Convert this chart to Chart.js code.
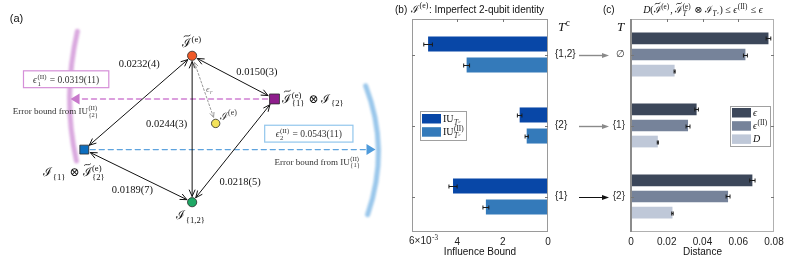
<!DOCTYPE html>
<html>
<head>
<meta charset="utf-8">
<script src="https://cdn.jsdelivr.net/npm/chart.js@4.4.0/dist/chart.umd.min.js"></script>
<style>
  html, body { margin: 0; padding: 0; background: #fff; }
  #wrap { position: relative; width: 793px; height: 258px; overflow: hidden; }
  canvas { position: absolute; left: 0; top: 0; }
</style>
</head>
<body>
<div id="wrap">
  <canvas id="diagram" width="793" height="258"></canvas>
  <canvas id="influence" width="793" height="258"></canvas>
  <canvas id="distance" width="793" height="258"></canvas>
</div>
<script>
// ---------- data ----------
// panel (a): nodes of the diagram (units: 0-100 on both axes)
const nodeX = [47.0, 68.0, 53.0, 19.5, 47.0];
const nodeY = [80.2, 62.4, 52.3, 41.5, 19.8];
const nodeColors = ['#f05a28', '#8e1d8c', '#f3e25a', '#0d6ebf', '#1fa865'];
const nodeShapes = ['circle', 'rect', 'circle', 'rect', 'circle'];
const nodeSizes = [4.6, 7, 4.2, 6.3, 4.6];

const edgeFrom = [3, 0, 0, 3, 1];
const edgeTo = [0, 1, 4, 4, 4];
const edgeLabels = ['0.0232(4)', '0.0150(3)', '0.0244(3)', '0.0189(7)', '0.0218(5)'];
const edgeLabelX = [33.5, 63.5, 40.5, 31.75, 59.25];
const edgeLabelY = [76.7, 73.6, 51.9, 24.8, 27.9];

// panel (b): influence bounds
const subsetsB = ['{1,2}', '{2}', '{1}'];
const iuVals = [5.29e-3, 1.25e-3, 4.19e-3];
const iuErr = [0.19e-3, 0.10e-3, 0.18e-3];
const iu2Vals = [3.59e-3, 0.94e-3, 2.74e-3];
const iu2Err = [0.13e-3, 0.07e-3, 0.13e-3];
const influenceTicks = [0, 2e-3, 4e-3, 6e-3];

// panel (c): distances
const subsetsC = ['∅', '{1}', '{2}'];
const epsVals = [0.0769, 0.0367, 0.0679];
const epsErr = [0.0013, 0.0010, 0.0015];
const eps2Vals = [0.0640, 0.0319, 0.0543];
const eps2Err = [0.0011, 0.0011, 0.0011];
const dVals = [0.0244, 0.0150, 0.0232];
const dErr = [0.0003, 0.0003, 0.0004];
const distanceTicks = [0, 0.02, 0.04, 0.06, 0.08];

// ---------- helpers ----------
const SERIF = '"Liberation Serif","DejaVu Serif",serif';
const SANS = '"Liberation Sans",Arial,sans-serif';
function fnt(size, it, fam) { return (it ? 'italic ' : '') + size + 'px ' + (fam || SERIF); }

// tiny math-ish text: segments {t, it, tilde} or {sup, sub, subIt}
function drawMath(ctx, segs, x, y, size, align, color) {
  const parts = [];
  let w = 0;
  for (const s of segs) {
    if (s.t !== undefined) {
      ctx.font = fnt(size, s.it, s.fam);
      const ww = ctx.measureText(s.t).width;
      parts.push({ s, x: w, w: ww });
      w += ww;
    } else {
      const fs = size * 0.72;
      ctx.font = fnt(fs, false);
      const a = s.sup ? ctx.measureText(s.sup).width : 0;
      ctx.font = fnt(fs, !!s.subIt);
      const b = s.sub ? ctx.measureText(s.sub).width : 0;
      parts.push({ s, x: w + 0.5, fs });
      w += Math.max(a, b) + 1.5;
    }
  }
  let x0 = x;
  if (align === 'center') x0 = x - w / 2;
  else if (align === 'right') x0 = x - w;
  ctx.save();
  ctx.fillStyle = color || '#111';
  ctx.strokeStyle = color || '#111';
  ctx.textAlign = 'left';
  ctx.textBaseline = 'alphabetic';
  for (const p of parts) {
    const s = p.s;
    if (s.t !== undefined) {
      ctx.font = fnt(size, s.it, s.fam);
      ctx.fillText(s.t, x0 + p.x, y);
      if (s.tilde) {
        const cx = x0 + p.x + p.w * 0.55, ty = y - size * 0.95, hw = size * 0.28;
        ctx.lineWidth = 0.8;
        ctx.beginPath();
        ctx.moveTo(cx - hw, ty + 1);
        ctx.bezierCurveTo(cx - hw / 2, ty - 1.6, cx + hw / 2, ty + 1.6, cx + hw, ty - 1);
        ctx.stroke();
      }
    } else {
      if (s.sup) { ctx.font = fnt(p.fs, false); ctx.fillText(s.sup, x0 + p.x, y - size * 0.42); }
      if (s.sub) { ctx.font = fnt(p.fs, !!s.subIt); ctx.fillText(s.sub, x0 + p.x, y + size * 0.3); }
    }
  }
  ctx.restore();
  return w;
}

function openHead(ctx, x, y, ang, len, half) {
  ctx.beginPath();
  ctx.moveTo(x - len * Math.cos(ang - half), y - len * Math.sin(ang - half));
  ctx.lineTo(x, y);
  ctx.lineTo(x - len * Math.cos(ang + half), y - len * Math.sin(ang + half));
  ctx.stroke();
}
function filledHead(ctx, x, y, ang, len, half) {
  ctx.beginPath();
  ctx.moveTo(x, y);
  ctx.lineTo(x - len * Math.cos(ang) - half * Math.sin(ang), y - len * Math.sin(ang) + half * Math.cos(ang));
  ctx.lineTo(x - len * Math.cos(ang) + half * Math.sin(ang), y - len * Math.sin(ang) - half * Math.cos(ang));
  ctx.closePath();
  ctx.fill();
}
function doubleArrow(ctx, a, b, ga, gb, len) {
  const dx = b[0] - a[0], dy = b[1] - a[1], L = Math.hypot(dx, dy);
  const ux = dx / L, uy = dy / L;
  const s = [a[0] + ux * ga, a[1] + uy * ga], e = [b[0] - ux * gb, b[1] - uy * gb];
  ctx.beginPath(); ctx.moveTo(s[0], s[1]); ctx.lineTo(e[0], e[1]); ctx.stroke();
  const ang = Math.atan2(dy, dx);
  ctx.setLineDash([]);
  openHead(ctx, e[0], e[1], ang, len, 0.42);
  openHead(ctx, s[0], s[1], ang + Math.PI, len, 0.42);
}
function nodeGap(i) { return nodeShapes[i] === 'rect' ? nodeSizes[i] * 0.9 + 1 : nodeSizes[i] + 1.2; }

// ---------- panel (a) ----------
const diagramDecor = {
  id: 'diagramDecor',
  beforeDatasetsDraw(chart) {
    const { ctx, scales: { x, y } } = chart;
    const P = i => [x.getPixelForValue(nodeX[i]), y.getPixelForValue(nodeY[i])];
    const Q = (u, v) => [x.getPixelForValue(u), y.getPixelForValue(v)];
    ctx.save();
    // soft arcs
    ctx.filter = 'blur(1.3px)';
    ctx.lineCap = 'round';
    ctx.lineWidth = 5;
    let a = Q(17.75, 90.3), c = Q(13.9, 63.2), b = Q(17.5, 36.8);
    ctx.strokeStyle = 'rgba(206,140,212,0.75)';
    ctx.beginPath(); ctx.moveTo(a[0], a[1]); ctx.quadraticCurveTo(c[0], c[1], b[0], b[1]); ctx.stroke();
    a = Q(91.25, 67.8); c = Q(97.5, 41.7); b = Q(91.75, 14.7);
    ctx.strokeStyle = 'rgba(120,180,228,0.75)';
    ctx.beginPath(); ctx.moveTo(a[0], a[1]); ctx.quadraticCurveTo(c[0], c[1], b[0], b[1]); ctx.stroke();
    ctx.filter = 'none';

    // dashed error-bound lines
    ctx.lineWidth = 1.4;
    ctx.setLineDash([5, 4]);
    const pp = P(1), tipP = x.getPixelForValue(16.0);
    ctx.strokeStyle = '#cf7fd2';
    ctx.beginPath(); ctx.moveTo(pp[0] - 7, pp[1]); ctx.lineTo(tipP + 9, pp[1]); ctx.stroke();
    const pb = P(3), tipB = x.getPixelForValue(93.75);
    ctx.strokeStyle = '#5ea3de';
    ctx.beginPath(); ctx.moveTo(pb[0] + 6, pb[1]); ctx.lineTo(tipB - 9, pb[1]); ctx.stroke();
    ctx.setLineDash([]);
    ctx.fillStyle = '#c878cc';
    filledHead(ctx, tipP, pp[1], Math.PI, 9, 5.5);
    ctx.fillStyle = '#4f9bdb';
    filledHead(ctx, tipB, pb[1], 0, 9, 5.5);

    // distance edges
    ctx.strokeStyle = '#111';
    ctx.lineWidth = 1;
    for (let k = 0; k < edgeFrom.length; k++) {
      const i = edgeFrom[k], j = edgeTo[k];
      doubleArrow(ctx, P(i), P(j), nodeGap(i), nodeGap(j), 7);
    }
    // epsilon_r dotted link
    ctx.strokeStyle = '#9a9a9a';
    ctx.setLineDash([2, 2]);
    doubleArrow(ctx, P(0), P(2), nodeGap(0) + 1, nodeGap(2) + 1, 5);
    ctx.restore();
  },
  afterDatasetsDraw(chart) {
    const { ctx, scales: { x, y } } = chart;
    const X = v => x.getPixelForValue(v), Y = v => y.getPixelForValue(v);
    ctx.save();
    ctx.font = '11px ' + SANS;
    ctx.fillStyle = '#111';
    ctx.textBaseline = 'alphabetic';
    ctx.fillText('(a)', X(0.5), Y(94.2));
    ctx.restore();

    ctx.save();
    ctx.font = '10.5px ' + SERIF;
    ctx.fillStyle = '#111';
    ctx.textAlign = 'center';
    ctx.textBaseline = 'middle';
    edgeLabels.forEach((t, k) => ctx.fillText(t, X(edgeLabelX[k]), Y(edgeLabelY[k])));
    ctx.restore();
    drawMath(ctx, [{ t: 'ϵ', it: true }, { sub: 'r', subIt: true }], X(51.5), Y(66.7) + 3, 9, 'center', '#777');

    // node labels
    drawMath(ctx, [{ t: 'ℐ', tilde: true }, { sup: '(e)' }], X(47.0), Y(83.7), 12, 'center');
    drawMath(ctx, [{ t: 'ℐ', tilde: true }, { sup: '(e)', sub: '{1}' }, { t: ' ⊗ ' }, { t: 'ℐ' }, { sub: '{2}' }], X(70.0), Y(60.9), 12, 'left');
    drawMath(ctx, [{ t: 'ℐ' }, { sup: '(e)' }], X(54.0), Y(53.9), 11, 'left', '#333');
    drawMath(ctx, [{ t: 'ℐ' }, { sub: '{1}' }, { t: ' ⊗ ' }, { t: 'ℐ', tilde: true }, { sup: '(e)', sub: '{2}' }], X(17.0), Y(30.6), 12, 'center');
    drawMath(ctx, [{ t: 'ℐ' }, { sub: '{1,2}' }], X(46.75), Y(12.8), 12, 'center');

    // boxes with error bounds
    ctx.save();
    ctx.fillStyle = '#fff';
    ctx.lineWidth = 1.2;
    ctx.strokeStyle = '#d58fd8';
    ctx.fillRect(X(4.0), Y(74.0), X(25.75) - X(4.0), Y(67.05) - Y(74.0));
    ctx.strokeRect(X(4.0), Y(74.0), X(25.75) - X(4.0), Y(67.05) - Y(74.0));
    ctx.strokeStyle = '#92c6ec';
    ctx.fillRect(X(65.5), Y(51.55), X(88.0) - X(65.5), Y(44.6) - Y(51.55));
    ctx.strokeRect(X(65.5), Y(51.55), X(88.0) - X(65.5), Y(44.6) - Y(51.55));
    ctx.restore();
    drawMath(ctx, [{ t: 'ϵ', it: true }, { sup: '(II)', sub: '1' }, { t: ' = 0.0319(11)' }], (X(4.0) + X(25.75)) / 2, Y(70.5) + 3.5, 9.5, 'center', '#333');
    drawMath(ctx, [{ t: 'ϵ', it: true }, { sup: '(II)', sub: '2' }, { t: ' = 0.0543(11)' }], (X(65.5) + X(88.0)) / 2, Y(48.1) + 3.5, 9.5, 'center', '#333');
    drawMath(ctx, [{ t: 'Error bound from IU' }, { sup: '(II)', sub: '{2}' }], X(1.25), Y(56.2), 9, 'left', '#333');
    drawMath(ctx, [{ t: 'Error bound from IU' }, { sup: '(II)', sub: '{1}' }], X(90.0), Y(35.3), 9, 'right', '#333');
  }
};

new Chart(document.getElementById('diagram'), {
  type: 'scatter',
  data: {
    datasets: [{
      data: nodeX.map((v, i) => ({ x: v, y: nodeY[i] })),
      pointBackgroundColor: nodeColors,
      pointStyle: nodeShapes,
      pointRadius: nodeSizes,
      pointBorderColor: '#2a2a2a',
      pointBorderWidth: 0.8
    }]
  },
  options: {
    responsive: false,
    animation: false,
    layout: { padding: { left: 0, right: 393, top: 0, bottom: 0 } },
    plugins: { legend: { display: false }, tooltip: { enabled: false } },
    scales: {
      x: { display: false, min: 0, max: 100 },
      y: { display: false, min: 0, max: 100 }
    }
  },
  plugins: [diagramDecor]
});

// ---------- shared bar-panel plugins ----------
const errorBars = {
  id: 'errorBars',
  afterDatasetsDraw(chart) {
    const { ctx, scales: { x } } = chart;
    ctx.save();
    ctx.strokeStyle = '#1a1a1a';
    ctx.lineWidth = 1;
    chart.data.datasets.forEach((ds, i) => {
      chart.getDatasetMeta(i).data.forEach((bar, j) => {
        const v = ds.data[j], e = ds.errors[j];
        const x1 = x.getPixelForValue(v - e), x2 = x.getPixelForValue(v + e);
        const yy = Math.round(bar.y) + 0.5;
        ctx.beginPath();
        ctx.moveTo(x1, yy); ctx.lineTo(x2, yy);
        ctx.moveTo(x1, yy - 2); ctx.lineTo(x1, yy + 2);
        ctx.moveTo(x2, yy - 2); ctx.lineTo(x2, yy + 2);
        ctx.stroke();
      });
    });
    ctx.restore();
  }
};

const frame = {
  id: 'frame',
  afterDraw(chart, args, opts) {
    const { ctx, chartArea: ca, scales: { x, y } } = chart;
    ctx.save();
    ctx.strokeStyle = opts.color;
    ctx.lineWidth = 1;
    ctx.strokeRect(ca.left + 0.5, ca.top + 0.5, ca.right - ca.left - 1, ca.bottom - ca.top - 1);
    if (opts.leftColor) {
      ctx.strokeStyle = opts.leftColor;
      ctx.lineWidth = 2;
      ctx.beginPath(); ctx.moveTo(ca.left, ca.top); ctx.lineTo(ca.left, ca.bottom); ctx.stroke();
    }
    ctx.strokeStyle = '#777';
    ctx.lineWidth = 1;
    ctx.beginPath();
    x.ticks.forEach(t => {
      const px = Math.round(x.getPixelForValue(t.value)) + 0.5;
      if (px > ca.left + 2 && px < ca.right - 2) { ctx.moveTo(px, ca.top); ctx.lineTo(px, ca.top + 3); }
    });
    y.ticks.forEach((t, i) => {
      const py = Math.round(y.getPixelForValue(i)) + 0.5;
      ctx.moveTo(ca.left, py); ctx.lineTo(ca.left + 3, py);
      ctx.moveTo(ca.right, py); ctx.lineTo(ca.right - 3, py);
    });
    ctx.stroke();
    ctx.restore();
  }
};

const insideLegend = {
  id: 'insideLegend',
  afterDraw(chart, args, opts) {
    const { ctx } = chart;
    const [bx, by, bw, bh] = opts.box;
    ctx.save();
    ctx.fillStyle = '#fff';
    ctx.fillRect(bx, by, bw, bh);
    ctx.strokeStyle = '#a0a0a0';
    ctx.lineWidth = 1;
    ctx.strokeRect(bx + 0.5, by + 0.5, bw, bh);
    ctx.restore();
    chart.data.datasets.forEach((ds, i) => {
      const ry = by + opts.first + i * opts.step;
      ctx.fillStyle = ds.backgroundColor;
      ctx.fillRect(bx + 2, ry, opts.sw, opts.sh);
      drawMath(ctx, opts.labels[i], bx + opts.sw + 4, ry + opts.sh - 1.5, 10, 'left', '#111');
    });
  }
};

Chart.defaults.font.family = SANS;
Chart.defaults.font.size = 10;
Chart.defaults.color = '#222';

// ---------- panel (b) ----------
const influenceText = {
  id: 'influenceText',
  afterDraw(chart) {
    const { ctx, chartArea: ca, scales: { x, y } } = chart;
    ctx.save();
    ctx.fillStyle = '#111';
    ctx.font = '10px ' + SANS;
    ctx.textBaseline = 'alphabetic';
    ctx.fillText('(b)', 395, 13);
    ctx.restore();
    drawMath(ctx, [{ t: 'ℐ' }, { sup: '(e)' }], 411, 13, 11, 'left');
    ctx.save();
    ctx.font = '10px ' + SANS;
    ctx.fillStyle = '#111';
    ctx.fillText(': Imperfect 2-qubit identity', 429, 13);
    ctx.textAlign = 'center';
    ctx.fillText('Influence Bound', (ca.left + ca.right) / 2, 255);
    ctx.restore();
    // 6x10^-3 tick label
    const x6 = x.getPixelForValue(6e-3);
    drawMath(ctx, [{ t: '6×10', fam: SANS }, { sup: '-3' }], x6 - 3, 244, 10, 'left', '#222');
    drawMath(ctx, [{ t: 'T', it: true }, { sup: 'c' }], 558, 31, 13, 'left', '#111');
    // arrows to panel (c)
    ctx.save();
    y.ticks.forEach((t, i) => {
      const py = Math.round(y.getPixelForValue(i)) + 0.5;
      const col = i < 2 ? '#8a8a8a' : '#111';
      ctx.strokeStyle = col; ctx.fillStyle = col;
      ctx.lineWidth = i < 2 ? 1.4 : 1;
      ctx.beginPath(); ctx.moveTo(579, py); ctx.lineTo(603, py); ctx.stroke();
      filledHead(ctx, 609, py, 0, 7, 2.6);
    });
    ctx.restore();
  }
};

new Chart(document.getElementById('influence'), {
  type: 'bar',
  data: {
    labels: subsetsB,
    datasets: [
      { label: 'IU_Tc', data: iuVals, errors: iuErr, backgroundColor: '#0847a7' },
      { label: 'IU(II)_Tc', data: iu2Vals, errors: iu2Err, backgroundColor: '#347aba' }
    ]
  },
  options: {
    indexAxis: 'y',
    responsive: false,
    animation: false,
    categoryPercentage: 0.593,
    barPercentage: 0.714,
    layout: { padding: { left: 412, right: 205, top: 19, bottom: 6 } },
    plugins: {
      legend: { display: false },
      tooltip: { enabled: false },
      frame: { color: '#9a9a9a' },
      insideLegend: {
        box: [420, 111, 46, 29], first: 3, step: 13.2, sw: 19, sh: 9.5,
        labels: [
          [{ t: 'IU' }, { sub: 'Tᶜ', subIt: true }],
          [{ t: 'IU' }, { sup: '(II)', sub: 'Tᶜ', subIt: true }]
        ]
      }
    },
    scales: {
      x: {
        type: 'linear', min: 0, max: 6e-3, reverse: true, position: 'bottom',
        grid: { display: false, drawTicks: false },
        border: { display: false },
        afterBuildTicks: s => { s.ticks = influenceTicks.map(v => ({ value: v })); },
        ticks: {
          autoSkip: false, maxRotation: 0, padding: 4,
          callback: v => (v > 5.9e-3 ? '' : String(Math.round(v * 1000)))
        },
        afterFit: s => { s.height = 20; }
      },
      y: {
        type: 'category', position: 'right',
        grid: { display: false, drawTicks: false },
        border: { display: false },
        ticks: { padding: 7, color: '#222' },
        afterFit: s => { s.width = 40; }
      }
    }
  },
  plugins: [errorBars, frame, insideLegend, influenceText]
});

// ---------- panel (c) ----------
const distanceText = {
  id: 'distanceText',
  afterDraw(chart) {
    const { ctx, chartArea: ca } = chart;
    ctx.save();
    ctx.fillStyle = '#111';
    ctx.font = '10px ' + SANS;
    ctx.fillText('(c)', 603, 13);
    ctx.textAlign = 'center';
    ctx.fillText('Distance', (ca.left + ca.right) / 2, 255);
    ctx.restore();
    drawMath(ctx, [
      { t: 'D', it: true }, { t: '(' }, { t: 'ℐ', tilde: true }, { sup: '(e)' }, { t: ', ' },
      { t: 'ℐ', tilde: true }, { sup: '(e)', sub: 'T', subIt: true }, { t: ' ⊗ ' }, { t: 'ℐ' },
      { sub: 'Tᶜ', subIt: true }, { t: ') ≤ ' }, { t: 'ϵ', it: true }, { sup: '(II)' }, { t: ' ≤ ' }, { t: 'ϵ', it: true }
    ], 703, 13, 10, 'center', '#111');
    drawMath(ctx, [{ t: 'T', it: true }], 617, 31, 13, 'left', '#111');
  }
};

new Chart(document.getElementById('distance'), {
  type: 'bar',
  data: {
    labels: subsetsC,
    datasets: [
      { label: 'eps', data: epsVals, errors: epsErr, backgroundColor: '#3c475a' },
      { label: 'eps(II)', data: eps2Vals, errors: eps2Err, backgroundColor: '#76839a' },
      { label: 'D', data: dVals, errors: dErr, backgroundColor: '#bfc8d8' }
    ]
  },
  options: {
    indexAxis: 'y',
    responsive: false,
    animation: false,
    categoryPercentage: 0.678,
    barPercentage: 0.73,
    layout: { padding: { left: 601, right: 19, top: 19, bottom: 6 } },
    plugins: {
      legend: { display: false },
      tooltip: { enabled: false },
      frame: { color: '#b0b0b0', leftColor: '#8c8c8c' },
      insideLegend: {
        box: [730, 106, 40, 40], first: 2, step: 13.2, sw: 19, sh: 9.5,
        labels: [
          [{ t: 'ϵ', it: true }],
          [{ t: 'ϵ', it: true }, { sup: '(II)' }],
          [{ t: 'D', it: true }]
        ]
      }
    },
    scales: {
      x: {
        type: 'linear', min: 0, max: 0.08, position: 'bottom',
        grid: { display: false, drawTicks: false },
        border: { display: false },
        afterBuildTicks: s => { s.ticks = distanceTicks.map(v => ({ value: v })); },
        ticks: {
          autoSkip: false, maxRotation: 0, padding: 4,
          callback: v => (v === 0 ? '0' : v.toFixed(2))
        },
        afterFit: s => { s.height = 20; }
      },
      y: {
        type: 'category', position: 'left',
        grid: { display: false, drawTicks: false },
        border: { display: false },
        ticks: { padding: 6, color: '#333' },
        afterFit: s => { s.width = 30; }
      }
    }
  },
  plugins: [errorBars, frame, insideLegend, distanceText]
});
</script>
</body>
</html>
